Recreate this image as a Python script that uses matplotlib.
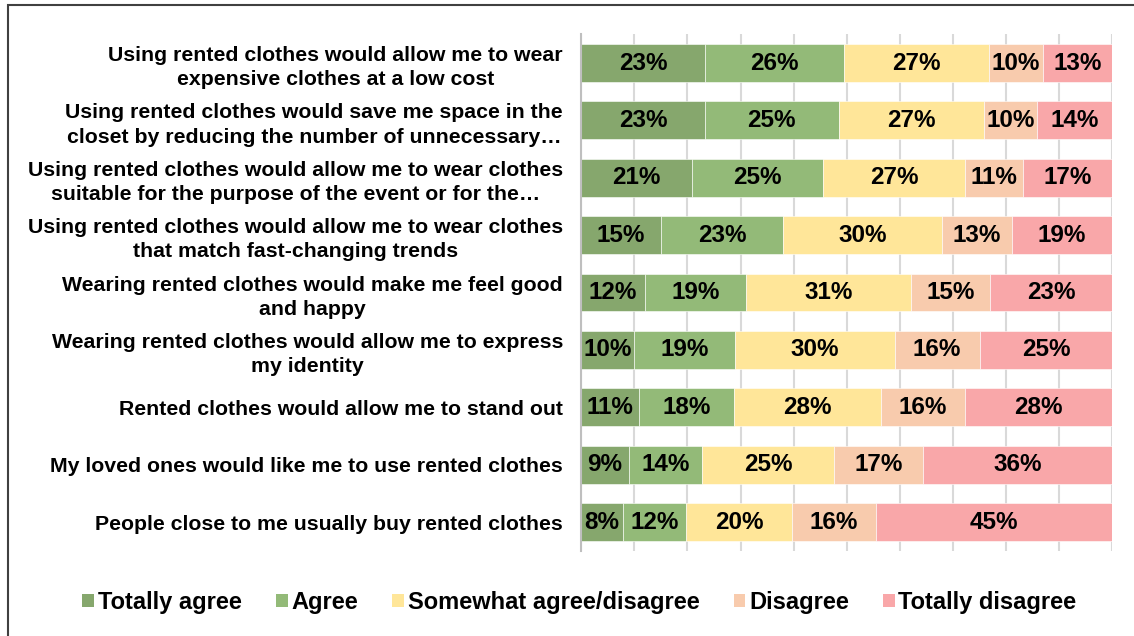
import matplotlib
matplotlib.use("Agg")
import matplotlib.pyplot as plt
import matplotlib.patches as patches
import numpy as np

plt.rcParams['font.family'] = ['Liberation Sans', 'DejaVu Sans']

statements = [
    'Using rented clothes would allow me to wear\nexpensive clothes at a low cost',
    'Using rented clothes would save me space in the\ncloset by reducing the number of unnecessary\u2026',
    'Using rented clothes would allow me to wear clothes\nsuitable for the purpose of the event or for the\u2026',
    'Using rented clothes would allow me to wear clothes\nthat match fast-changing trends',
    'Wearing rented clothes would make me feel good\nand happy',
    'Wearing rented clothes would allow me to express\nmy identity',
    'Rented clothes would allow me to stand out',
    'My loved ones would like me to use rented clothes',
    'People close to me usually buy rented clothes',
]

levels = ['Totally agree', 'Agree', 'Somewhat agree/disagree', 'Disagree', 'Totally disagree']
colors = ['#86A76D', '#93BA78', '#FFE699', '#F8CBAD', '#F9A7A9']

totally_agree = [23, 23, 21, 15, 12, 10, 11, 9, 8]
agree = [26, 25, 25, 23, 19, 19, 18, 14, 12]
somewhat = [27, 27, 27, 30, 31, 30, 28, 25, 20]
disagree = [10, 10, 11, 13, 15, 16, 16, 17, 16]
totally_disagree = [13, 14, 17, 19, 23, 25, 28, 36, 45]

series = np.array([totally_agree, agree, somewhat, disagree, totally_disagree], dtype=float)
# 100% stacked: each row scaled to its own total
shares = series / series.sum(axis=0) * 100

fig = plt.figure(figsize=(11.34, 6.36), dpi=100)
ax = fig.add_axes([0.5125, 0.134, 0.4685, 0.812])

y = np.arange(len(statements))
left = np.zeros(len(statements))
for vals, share, color, name in zip(series, shares, colors, levels):
    ax.barh(y, share, left=left, height=0.66, color=color, edgecolor='white',
            linewidth=0.4, label=name, zorder=3)
    for yi, l, s, v in zip(y, left, share, vals):
        ax.text(l + s / 2, yi, f'{int(v)}%', ha='center', va='center',
                fontsize=17.5, fontweight='bold', color='black', zorder=4)
    left += share

ax.set_xlim(0, 100)
ax.set_ylim(len(statements) - 0.5, -0.5)
ax.set_xticks(np.arange(0, 101, 10))
ax.xaxis.grid(True, color='#D9D9D9', linewidth=1.5, zorder=0)
ax.tick_params(axis='x', length=0, labelbottom=False)
ax.tick_params(axis='y', length=0, pad=13)
ax.set_yticks(y)
ax.set_yticklabels(statements, fontsize=15.3, fontweight='bold', linespacing=1.35,
                   multialignment='center')
for side in ['top', 'right', 'bottom']:
    ax.spines[side].set_visible(False)
ax.spines['left'].set_color('#BFBFBF')
ax.spines['left'].set_linewidth(1.5)
ax.spines['left'].set_zorder(5)

handles = [patches.Patch(facecolor=c, edgecolor='none') for c in colors]
fig.legend(handles, levels, loc='center', bbox_to_anchor=(0.511, 0.053), ncol=5,
           frameon=False, handlelength=0.5, handleheight=0.5,
           handletextpad=0.15, columnspacing=1.45,
           prop={'weight': 'bold', 'size': 17})

# outer frame of the chart area
frame = patches.Rectangle((8 / 1134, -0.05), 1.2, 0.05 + 631 / 636, transform=fig.transFigure,
                          fill=False, edgecolor='#404040', linewidth=1.5, clip_on=False)
fig.add_artist(frame)

fig.savefig('out.png', dpi=100, facecolor='white')
